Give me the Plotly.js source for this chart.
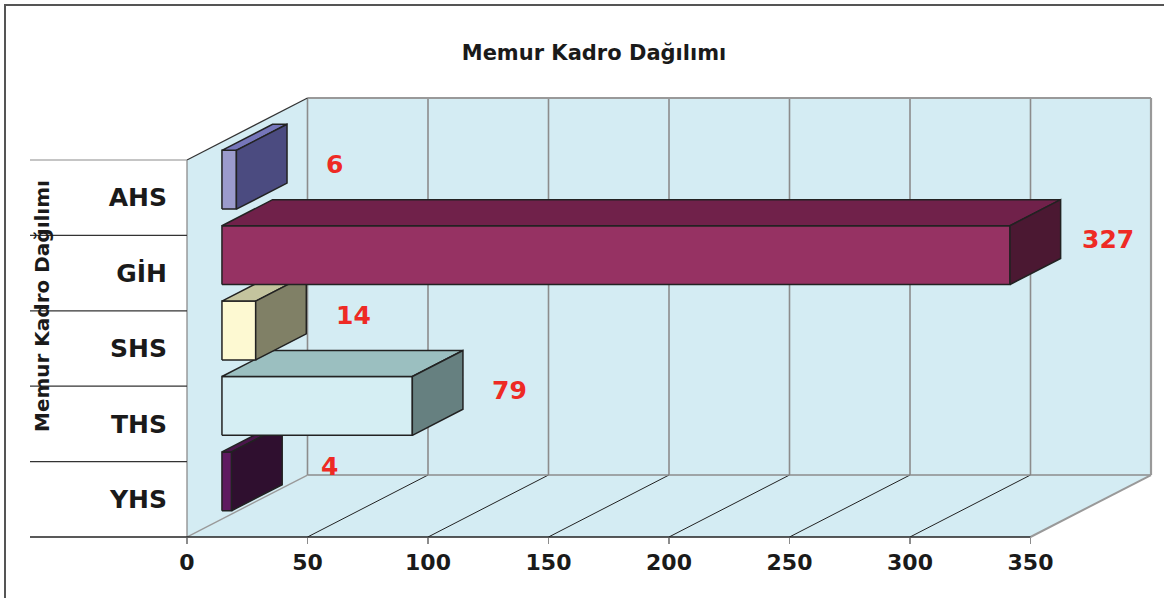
<!DOCTYPE html>
<html>
<head>
<meta charset="utf-8">
<script src="https://cdn.plot.ly/plotly-3.0.1.min.js"></script>
<style>
  html, body { margin: 0; padding: 0; background: #ffffff; }
  #wrap { position: relative; width: 1164px; height: 598px; overflow: hidden; }
  #chart { position: absolute; left: 0; top: 0; width: 1164px; height: 598px; }
  #frame { position: absolute; left: 4px; top: 4px; width: 1300px; height: 700px;
           border-top: 2.5px solid #555; border-left: 2.5px solid #555; pointer-events: none; }
</style>
</head>
<body>
<div id="wrap"><div id="chart"></div><div id="frame"></div></div>
<script>
// ---- data (bottom to top, as drawn) ----
const categories = ['YHS', 'THS', 'SHS', 'GİH', 'AHS'];
const values = [4, 79, 14, 327, 6];
const frontColors = ['#5f1a60', '#d5eef3', '#fdf9d2', '#963263', '#9b9bcd'];
const topColors   = ['#4a164b', '#9bbfc0', '#c4c49e', '#70214a', '#7676ba'];
const sideColors  = ['#2f0f2f', '#668080', '#808066', '#4b1832', '#4b4b80'];
const xTicks = [0, 50, 100, 150, 200, 250, 300, 350];
const chartTitle = 'Memur Kadro Dağılımı';
const axisTitle = 'Memur Kadro Dağılımı';

// ---- 3D geometry (in axis units) ----
const XMAX = 350;      // value axis max
const DX = 50;         // depth offset along value axis
const DY = 0.822;      // depth offset along category axis
const F0 = 0.29, F1 = 0.71; // bar depth span
const HALF = 0.39;     // half bar thickness
const ML = 187, MR = 13, MT = 98, MB = 61, W = 1164, H = 598;
const PW = W - ML - MR, PH = H - MT - MB;
const xr = [0, XMAX + DX], yr = [-0.5, categories.length - 0.5 + DY];
const xp = v => (v - xr[0]) / (xr[1] - xr[0]);
const yp = v => (v - yr[0]) / (yr[1] - yr[0]);
const pxToPaperX = px => (px - ML) / PW;

const WALL = '#d4ecf3';
const traces = [];
values.forEach((v, i) => {
  const x0 = F0 * DX, x1 = F0 * DX + v;
  const yc = i + F0 * DY;
  const y0 = yc - HALF, y1 = yc + HALF;
  const ox = (F1 - F0) * DX, oy = (F1 - F0) * DY;
  const edge = {color: '#222222', width: 1.5};
  const poly = (xs, ys, fc, name) => ({
    type: 'scatter', mode: 'lines', fill: 'toself', fillcolor: fc,
    x: xs, y: ys, line: edge, hoverinfo: 'skip', showlegend: false, name: name
  });
  traces.push(poly([x0, x1, x1, x0, x0], [y0, y0, y1, y1, y0], frontColors[i], categories[i]));
  traces.push(poly([x0, x1, x1 + ox, x0 + ox, x0], [y1, y1, y1 + oy, y1 + oy, y1], topColors[i], categories[i]));
  traces.push(poly([x1, x1 + ox, x1 + ox, x1, x1], [y0, y0 + oy, y1 + oy, y1, y0], sideColors[i], categories[i]));
});

const shapes = [];
const yBot = -0.5, yTop = categories.length - 0.5;
// walls
shapes.push({type: 'path', xref: 'x', yref: 'y', layer: 'below', line: {width: 0}, fillcolor: WALL,
  path: `M0,${yBot} L${DX},${yBot + DY} L${DX},${yTop + DY} L0,${yTop} Z`});
shapes.push({type: 'rect', xref: 'x', yref: 'y', layer: 'below', line: {width: 0}, fillcolor: WALL,
  x0: DX, x1: XMAX + DX, y0: yBot + DY, y1: yTop + DY});
shapes.push({type: 'path', xref: 'x', yref: 'y', layer: 'below', line: {width: 0}, fillcolor: WALL,
  path: `M0,${yBot} L${XMAX},${yBot} L${XMAX + DX},${yBot + DY} L${DX},${yBot + DY} Z`});
// back wall gridlines & floor gridlines
xTicks.forEach(t => {
  if (t < XMAX) {
    shapes.push({type: 'line', xref: 'x', yref: 'y', layer: 'below', line: {color: '#8c8c8c', width: 1.6},
      x0: t + DX, x1: t + DX, y0: yBot + DY, y1: yTop + DY});
  }
  if (t > 0 && t < XMAX) {
    shapes.push({type: 'line', xref: 'x', yref: 'y', layer: 'below', line: {color: '#222222', width: 1},
      x0: t, x1: t + DX, y0: yBot, y1: yBot + DY});
  }
});
shapes.push({type: 'line', xref: 'x', yref: 'y', layer: 'below', line: {color: '#8c8c8c', width: 1.6},
  x0: DX, x1: XMAX + DX, y0: yBot + DY, y1: yBot + DY});
shapes.push({type: 'line', xref: 'x', yref: 'y', layer: 'below', line: {color: '#999999', width: 1.4},
  x0: 0, x1: DX, y0: yBot, y1: yBot + DY});
// outer edges (paper refs, unclipped)
const P = (x0, y0, x1, y1, color, width) => ({type: 'line', xref: 'paper', yref: 'paper', layer: 'above',
  x0: x0, y0: y0, x1: x1, y1: y1, line: {color: color, width: width}});
shapes.push(P(xp(DX), yp(yTop + DY), xp(XMAX + DX), yp(yTop + DY), '#999999', 2.2));        // back top
shapes.push(P(xp(XMAX + DX), yp(yBot + DY), xp(XMAX + DX), yp(yTop + DY), '#999999', 2.2)); // back right
shapes.push(P(xp(XMAX), yp(yBot), xp(XMAX + DX), yp(yBot + DY), '#999999', 2));             // floor right
shapes.push(P(xp(0), yp(yTop), xp(DX), yp(yTop + DY), '#333333', 1.2));                     // left wall top
shapes.push(P(xp(0), yp(yBot), xp(0), yp(yTop), '#8c8c8c', 1.3));                           // front axis
shapes.push(P(pxToPaperX(30), yp(yBot), xp(XMAX), yp(yBot), '#222222', 1.6));               // bottom line
for (let k = 1; k <= categories.length; k++) {
  const yy = yBot + k;
  shapes.push(P(pxToPaperX(30), yp(yy), xp(0), yp(yy), k === categories.length ? '#8c8c8c' : '#333333', 1.2));
}

const annotations = values.map((v, i) => ({
  xref: 'x', yref: 'y', x: v + 55, y: i + 0.44, text: String(v), showarrow: false,
  xanchor: 'center', yanchor: 'middle',
  font: {family: 'DejaVu Sans', size: 25, color: '#ee2a24', weight: 700}
}));
annotations.push({
  xref: 'paper', yref: 'paper', x: pxToPaperX(42), y: (H - MB - 306) / PH, textangle: -90,
  text: axisTitle, showarrow: false, xanchor: 'center', yanchor: 'middle',
  font: {family: 'DejaVu Sans', size: 20, color: '#1a1a1a', weight: 700}
});

const layout = {
  width: W, height: H, autosize: false,
  margin: {l: ML, r: MR, t: MT, b: MB, pad: 0},
  paper_bgcolor: '#ffffff', plot_bgcolor: 'rgba(0,0,0,0)',
  title: {text: chartTitle, xref: 'container', x: 594 / W, xanchor: 'center',
          yref: 'container', y: 1 - 53 / H, yanchor: 'middle',
          font: {family: 'DejaVu Sans', size: 21, color: '#1a1a1a', weight: 700}},
  xaxis: {range: xr, tickmode: 'array', tickvals: xTicks, ticktext: xTicks.map(String),
          showgrid: false, zeroline: false, showline: false,
          ticks: 'outside', ticklen: 6, tickwidth: 1.5, tickcolor: '#8c8c8c',
          tickfont: {family: 'DejaVu Sans', size: 22, color: '#1a1a1a', weight: 700},
          fixedrange: true},
  yaxis: {range: yr, tickmode: 'array', tickvals: categories.map((c, i) => i), ticktext: categories,
          showgrid: false, zeroline: false, showline: false,
          ticks: 'outside', ticklen: 14, tickcolor: 'rgba(0,0,0,0)',
          tickfont: {family: 'DejaVu Sans', size: 25, color: '#1a1a1a', weight: 700},
          fixedrange: true},
  shapes: shapes, annotations: annotations, showlegend: false, hovermode: false
};
Plotly.newPlot('chart', traces, layout, {staticPlot: true, displayModeBar: false});
</script>
</body>
</html>
